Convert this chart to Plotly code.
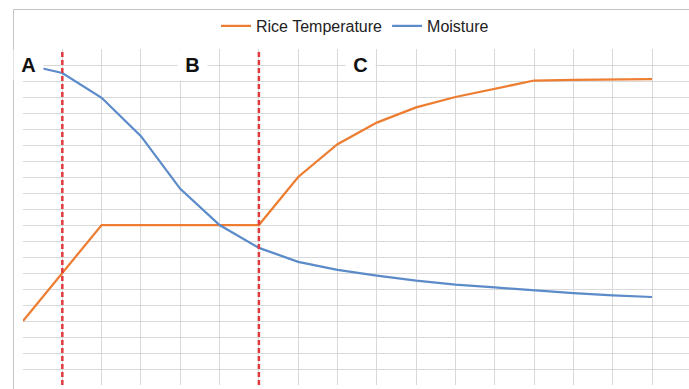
import plotly.graph_objects as go

# ---- data (x in time steps, y in chart grid units) ----
temp_x = [0, 1, 2, 3, 4, 5, 6, 7, 8, 9, 10, 11, 12, 13, 14, 15, 16]
rice_temperature = [4.0, 7.0, 10.0, 10.0, 10.0, 10.0, 10.0, 13.0, 15.05, 16.4, 17.35,
                    18.0, 18.5, 19.03, 19.07, 19.1, 19.11]
moist_x = [0.5, 1, 2, 3, 4, 5, 6, 7, 8, 9, 10, 11, 12, 13, 14, 15, 16]
moisture = [19.78, 19.5, 17.95, 15.55, 12.26, 10.0, 8.57, 7.7, 7.2, 6.84, 6.53, 6.28,
            6.1, 5.9, 5.74, 5.6, 5.5]
phase_boundaries = [1, 6]
phase_labels = ["A", "B", "C"]

# ---- layout constants ----
W, H = 689, 389
ML, MR, MT, MB = 23, 0, 49, 4
PW, PH = W - ML - MR, H - MT - MB
X_STEP = 39.3125
X_MAX = PW / X_STEP
Y_MAX = 21


def px_x(p):
    return (p - ML) / PW


def px_y(q):
    return (H - MB - q) / PH


ORANGE = "#ED7D31"
BLUE = "#5B8BC9"
GRID = "#D9D9D9"

fig = go.Figure()
fig.add_trace(go.Scatter(x=temp_x, y=rice_temperature, mode="lines",
                         name="Rice Temperature",
                         line=dict(color=ORANGE, width=2.25)))
fig.add_trace(go.Scatter(x=moist_x, y=moisture, mode="lines", name="Moisture",
                         line=dict(color=BLUE, width=2.25)))

shapes = []
for xb in phase_boundaries:
    shapes.append(dict(type="line", xref="x", yref="paper", x0=xb, x1=xb, y0=0, y1=1,
                       line=dict(color="#E0393E", width=2.5, dash="5px,3px"),
                       layer="above"))
# outer chart border (top and left)
shapes.append(dict(type="line", xref="paper", yref="paper",
                   x0=px_x(13.5), x1=px_x(700), y0=px_y(9.5), y1=px_y(9.5),
                   line=dict(color="#C4C4C4", width=1)))
shapes.append(dict(type="line", xref="paper", yref="paper",
                   x0=px_x(13.5), x1=px_x(13.5), y0=px_y(9.5), y1=px_y(400),
                   line=dict(color="#C4C4C4", width=1)))

label_centers_px = [28, 192.5, 360]
annotations = []
for lab, cx in zip(phase_labels, label_centers_px):
    annotations.append(dict(text="<b>" + lab + "</b>", xref="paper", yref="paper",
                            x=px_x(cx), y=px_y(65), xanchor="center", yanchor="middle",
                            showarrow=False, bgcolor="white", width=29, height=30,
                            borderpad=0,
                            font=dict(family="Liberation Sans, Arial", size=20,
                                      color="#111111")))

fig.update_layout(
    width=W, height=H,
    margin=dict(l=ML, r=MR, t=MT, b=MB),
    paper_bgcolor="white", plot_bgcolor="white",
    showlegend=True,
    legend=dict(orientation="h", x=px_x(216), y=px_y(26), xanchor="left",
                yanchor="middle", font=dict(family="Liberation Sans, Arial", size=16,
                                            color="#222222"),
                itemwidth=30, bgcolor="rgba(0,0,0,0)"),
    shapes=shapes,
    annotations=annotations,
    xaxis=dict(range=[0, X_MAX], dtick=1, tick0=0, showgrid=True, gridcolor=GRID,
               gridwidth=1, zeroline=False, showticklabels=False, ticks="",
               showline=False, fixedrange=True),
    yaxis=dict(range=[0, Y_MAX], dtick=1, tick0=0, showgrid=True, gridcolor=GRID,
               gridwidth=1, zeroline=False, showticklabels=False, ticks="",
               showline=False, fixedrange=True),
)

fig.write_html("out.html", config={"displayModeBar": False})
